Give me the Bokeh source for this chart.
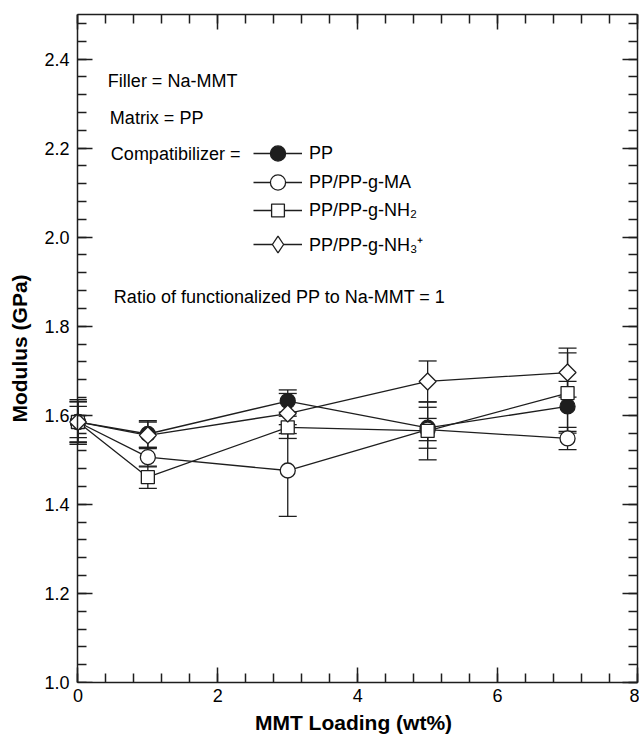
import math
from bokeh.plotting import figure
from bokeh.models import (LinearAxis, SingleIntervalTicker, Whisker, TeeHead,
                          ColumnDataSource, Label, Legend, LegendItem,
                          NumeralTickFormatter, Range1d, CustomJSTickFormatter)
from bokeh.embed import file_html
from bokeh.resources import INLINE

# ---------------- data ----------------
loading = [0, 1, 3, 5, 7]
labels = ["PP", "PP/PP-g-MA", "PP/PP-g-NH\u2082", "PP/PP-g-NH\u2083\u207a"]
mod_pp = [1.585, 1.558, 1.632, 1.572, 1.620]
mod_ma = [1.585, 1.506, 1.476, 1.568, 1.548]
mod_nh2 = [1.585, 1.461, 1.573, 1.565, 1.650]
mod_nh3 = [1.585, 1.555, 1.604, 1.676, 1.696]
err_pp = [0.050, 0.030, 0.025, 0.046, 0.056]
err_ma = [0.045, 0.022, 0.103, 0.025, 0.025]
err_nh2 = [0.035, 0.025, 0.025, 0.065, 0.090]
err_nh3 = [0.046, 0.030, 0.045, 0.046, 0.055]
x_ticks_interval = 2
y_ticks_interval = 0.2

FONT = "Liberation Sans"
INK = "#1e1e1e"
XPAD = 0.12  # room so the points at x = 0 are not clipped

FRAME_LEFT = 77 - XPAD * 70
p = figure(width=639, height=738, x_range=Range1d(-XPAD, 8), y_range=Range1d(1.0, 2.5),
           output_backend="svg", toolbar_location=None,
           min_border_left=int(round(FRAME_LEFT)), min_border_right=2,
           min_border_top=14, min_border_bottom=56)
p.grid.visible = False
p.outline_line_color = None
p.background_fill_color = "white"
p.border_fill_color = "white"


def ticks_only(ax):
    ax.major_tick_in = 15
    ax.major_tick_out = 0
    ax.minor_tick_in = 9
    ax.minor_tick_out = 0
    ax.axis_line_color = INK
    ax.axis_line_width = 1.5
    ax.major_tick_line_color = INK
    ax.minor_tick_line_color = INK
    ax.major_tick_line_width = 1.5
    ax.minor_tick_line_width = 1.5
    ax.formatter = CustomJSTickFormatter(code="return ''")
    ax.major_label_standoff = 0


def label_fonts(ax):
    ax.major_label_text_font = FONT
    ax.major_label_text_font_size = "18px"
    ax.major_label_text_color = "black"
    ax.axis_label_text_font = FONT
    ax.axis_label_text_font_size = "21px"
    ax.axis_label_text_font_style = "bold"
    ax.axis_label_text_color = "black"


# bottom axis: ticks, labels and title
xa = p.xaxis[0]
ticks_only(xa)
xa.ticker = SingleIntervalTicker(interval=x_ticks_interval, num_minor_ticks=5)
xa.formatter = NumeralTickFormatter(format="0")
xa.axis_label = "MMT Loading (wt%)"
xa.bounds = (0, 8)
label_fonts(xa)
xa.major_label_standoff = 6
xa.axis_label_standoff = 6

# left axis: labels and title only (the line and ticks sit at x = 0 below)
ya = p.yaxis[0]
ya.ticker = SingleIntervalTicker(interval=y_ticks_interval, num_minor_ticks=5)
ya.formatter = NumeralTickFormatter(format="0.0")
ya.axis_label = "Modulus (GPa)"
label_fonts(ya)
ya.axis_line_color = None
ya.major_tick_line_color = None
ya.minor_tick_line_color = None
ya.major_tick_in = 0
ya.major_tick_out = 0
ya.minor_tick_in = 0
ya.minor_tick_out = 0
ya.major_label_standoff = 0
ya.axis_label_standoff = 10

ya2 = LinearAxis(ticker=SingleIntervalTicker(interval=y_ticks_interval, num_minor_ticks=5),
                 fixed_location=0)
ticks_only(ya2)
p.add_layout(ya2, "left")

ra = LinearAxis(ticker=SingleIntervalTicker(interval=y_ticks_interval, num_minor_ticks=5))
ticks_only(ra)
p.add_layout(ra, "right")
ta = LinearAxis(ticker=SingleIntervalTicker(interval=x_ticks_interval, num_minor_ticks=5),
                bounds=(0, 8))
ticks_only(ta)
p.add_layout(ta, "above")

series = [
    (mod_pp, err_pp, dict(marker="circle", size=15, fill_color=INK, line_color=INK)),
    (mod_ma, err_ma, dict(marker="circle", size=15, fill_color="white", line_color=INK)),
    (mod_nh2, err_nh2, dict(marker="square", size=13, fill_color="white", line_color=INK)),
    (mod_nh3, err_nh3, dict(marker="square", size=12, angle=math.pi / 4,
                            fill_color="white", line_color=INK)),
]

line_rs, mark_rs, srcs = [], [], []
for vals, errs, _ in series:
    src = ColumnDataSource(dict(x=loading, y=vals,
                                upper=[v + e for v, e in zip(vals, errs)],
                                lower=[v - e for v, e in zip(vals, errs)]))
    srcs.append(src)
    w = Whisker(base="x", upper="upper", lower="lower", source=src,
                line_color=INK, line_width=1.3,
                upper_head=TeeHead(size=18, line_color=INK, line_width=1.3),
                lower_head=TeeHead(size=18, line_color=INK, line_width=1.3))
    p.add_layout(w)

for src in srcs:
    line_rs.append(p.line("x", "y", source=src, line_color=INK, line_width=1.3))

for src, (_, _, kw) in zip(srcs, series):
    mark_rs.append(p.scatter("x", "y", source=src, line_width=1.3, **kw))

# legend sample for the diamond series (the legend ignores marker angle)
legend_diamond = p.scatter("x", "y", source=srcs[3], marker="diamond", visible=False,
                           fill_color="white", line_color=INK, line_width=1.3)
legend_marks = [mark_rs[0], mark_rs[1], mark_rs[2], legend_diamond]

# legend rows: pixel row centre from the top, and sample height (marker = 0.4 * height)
row_px = [153, 182, 210, 244]
glyph_h = [37.5, 37.5, 32.5, 42.5]
for lab, lr, mr, rp, gh in zip(labels, line_rs, legend_marks, row_px, glyph_h):
    lg = Legend(items=[LegendItem(label=lab, renderers=[lr, mr])],
                location=(int(round(253 - FRAME_LEFT)), int(round(682 - rp - gh / 2))),
                padding=0, margin=0, spacing=0,
                border_line_color=None, background_fill_alpha=0,
                inactive_fill_alpha=0,
                glyph_width=49, glyph_height=int(round(gh)), label_height=int(round(gh)),
                label_standoff=7, label_text_font=FONT,
                label_text_font_size="18px", label_text_color="black",
                label_text_baseline="middle")
    p.add_layout(lg, "center")


def px2x(px):
    return (px - 77) / 70.0


def py2y(py):
    return 1.0 + (682 - py) / 445.0


texts = [
    ("Filler = Na-MMT", 107, 81),
    ("Matrix = PP", 109, 118),
    ("Compatibilizer =", 110, 154),
    ("Ratio of functionalized PP to Na-MMT = 1", 113, 297),
]
for t, tx, ty in texts:
    p.add_layout(Label(x=px2x(tx), y=py2y(ty), text=t, text_font=FONT,
                       text_font_size="18px", text_color="black",
                       text_baseline="middle", text_align="left"))

open("out.html", "w").write(file_html(p, INLINE))
